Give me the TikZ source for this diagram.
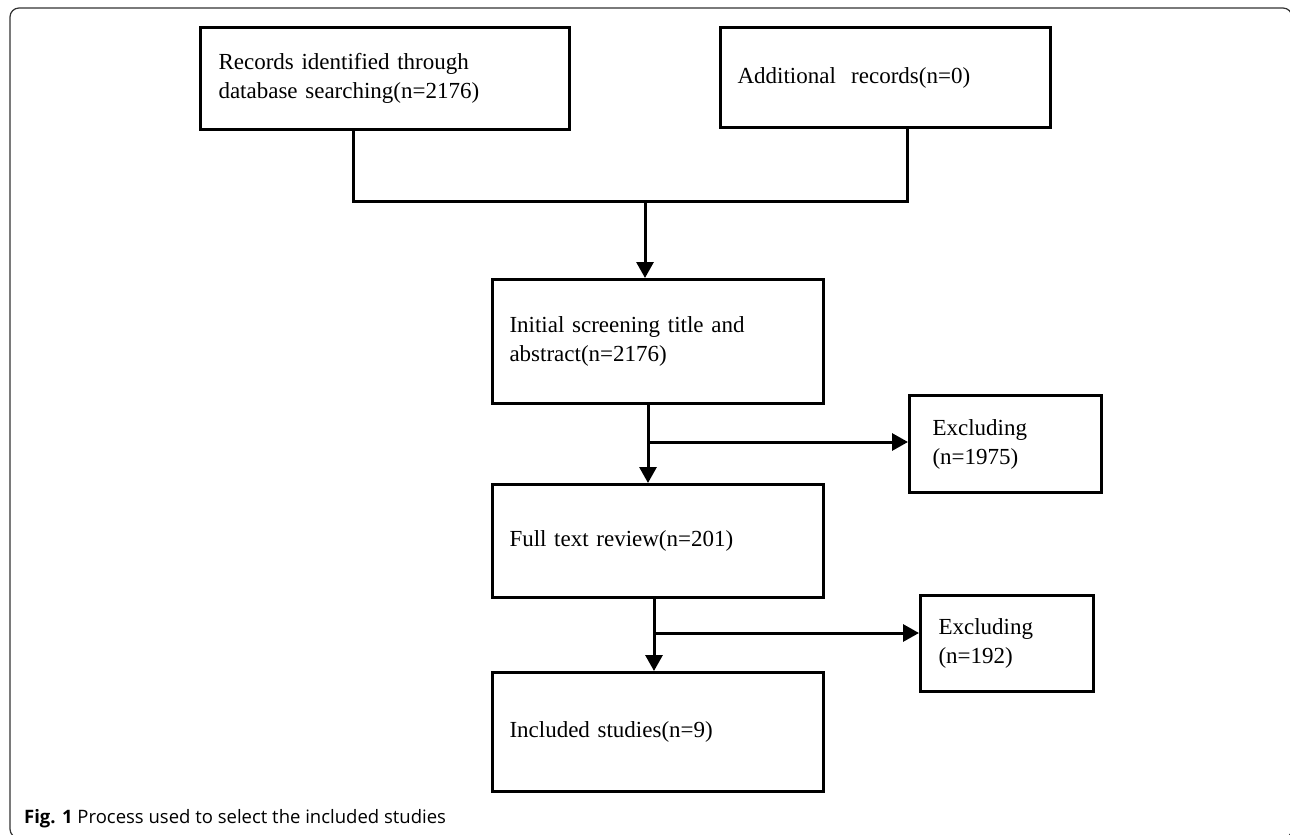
\documentclass[tikz,border=0pt]{standalone}
\usepackage{fontspec}
\setmainfont{Liberation Serif}
\newfontfamily\capfont{Open Sans}
\usetikzlibrary{arrows.meta}
\tikzset{
  flowbox/.style={draw, line width=3pt, inner ysep=0pt, align=left, anchor=north west,
    font=\fontsize{23}{29}\selectfont},
  conn/.style={line width=3pt},
  arr/.style={line width=3pt, -{Triangle[length=16pt,width=17pt]}},
  frameline/.style={draw=black!80, line width=1.2pt, rounded corners=9pt}
}
\begin{document}
\begin{tikzpicture}[x=1pt,y=-1pt]
\useasboundingbox (0,0) rectangle (1290,835);
\draw[frameline] (10,8) rectangle (1292,838);

\node[flowbox, inner xsep=18pt, text width=333pt, minimum height=102pt] (rec) at (199,26)
  {Records identified through\\database searching(n=2176)};
\node[flowbox, inner xsep=17pt, text width=296pt, minimum height=100pt] (add) at (719,26)
  {Additional~~records(n=0)};
\node[flowbox, inner xsep=17pt, text width=297pt, minimum height=124pt] (init) at (491,278)
  {Initial screening title and\\abstract(n=2176)};
\node[flowbox, inner xsep=17pt, text width=297pt, minimum height=113pt] (full) at (491,483)
  {Full text review(n=201)};
\node[flowbox, inner xsep=17pt, text width=297pt, minimum height=119pt] (incl) at (491,671)
  {Included studies(n=9)};
\node[flowbox, inner xsep=23pt, text width=146pt, minimum height=97pt] (ex1) at (908,394)
  {Excluding\\(n=1975)};
\node[flowbox, inner xsep=18pt, text width=137pt, minimum height=96pt] (ex2) at (919,594)
  {Excluding\\(n=192)};

\coordinate (j1) at (353,201);
\coordinate (j2) at (907,201);
\coordinate (m) at (645,201);
\coordinate (b1) at (648,442);
\coordinate (b2) at (654,633);

\draw[conn] (rec.south -| j1) -- (j1) -- (j2) -- (add.south -| j2);
\draw[arr] (m) -- (init.north -| m);
\draw[arr] (init.south -| b1) -- (full.north -| b1);
\draw[arr] (b1) -- (ex1.west |- b1);
\draw[arr] (full.south -| b2) -- (incl.north -| b2);
\draw[arr] (b2) -- (ex2.west |- b2);

\node[anchor=base west, inner sep=0pt, font=\capfont\fontsize{18.5}{22}\selectfont] (cap) at (24,823)
  {\textbf{Fig. 1} Process used to select the included studies};
\end{tikzpicture}
\end{document}
